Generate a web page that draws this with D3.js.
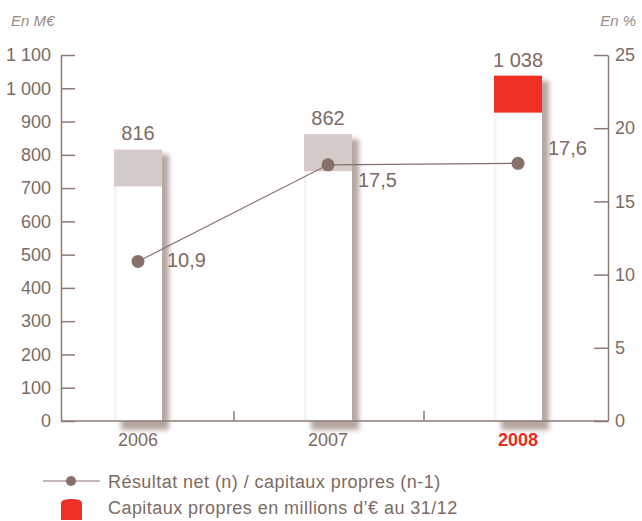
<!DOCTYPE html>
<html><head><meta charset="utf-8">
<script src="https://cdn.jsdelivr.net/npm/d3@7/dist/d3.min.js"></script>
<style>
html,body{margin:0;padding:0;background:#fff;}
svg{display:block;font-family:"Liberation Sans",Arial,sans-serif;}
</style></head>
<body>
<svg id="chart" width="642" height="521"></svg>
<script>
// ---- data ----
const years = ["2006", "2007", "2008"];
const capitaux = [816, 862, 1038];           // M€
const ratio = [10.9, 17.5, 17.6];            // %
const leftTicks = [0,100,200,300,400,500,600,700,800,900,1000,1100];
const rightTicks = [0,5,10,15,20,25];
const highlightYear = "2008";
const legendLabels = ["Résultat net (n) / capitaux propres (n-1)", "Capitaux propres en millions d’€ au 31/12"];
const unitLeft = "En M€", unitRight = "En %";
// label offsets for ratio values (style)
const ratioLabelOffset = [[29, 6], [30, 22], [30, -8]];

const fr = d3.formatLocale({decimal: ",", thousands: " ", grouping: [3], currency: ["", "€"]});
const fmtInt = fr.format(",d");
const fmtPct = fr.format(",.1f");

const svg = d3.select("#chart");
const textCol = "#7d6a63", axisCol = "#8c7b75";
const red = "#ee3124", capGray = "#d4cac8";

const x0 = 61, x1 = 608, yBase = 421, yTop = 55;
const x = d3.scaleBand().domain(years).range([43, 613]).paddingInner(0).paddingOuter(0);
const barW = 48;
const yL = d3.scaleLinear().domain([0, 1100]).range([yBase, yTop]);
const yR = d3.scaleLinear().domain([0, 25]).range([yBase, yTop]);
const capH = 37;

const defs = svg.append("defs");
const f = defs.append("filter").attr("id", "sh").attr("x", "-50%").attr("y", "-10%").attr("width", "200%").attr("height", "120%");
f.append("feGaussianBlur").attr("stdDeviation", 2.6);
const lg = defs.append("linearGradient").attr("id", "wg").attr("x1", 0).attr("x2", 1);
lg.append("stop").attr("offset", 0).attr("stop-color", "#f3efee");
lg.append("stop").attr("offset", 0.08).attr("stop-color", "#fff");
lg.append("stop").attr("offset", 1).attr("stop-color", "#fff");

const cx = d => x(d) + x.bandwidth() / 2;

// shadows
svg.append("g").selectAll("rect").data(years).join("rect")
  .attr("x", (d) => cx(d) - barW / 2 + 7)
  .attr("y", (d, i) => yL(capitaux[i]) + 5)
  .attr("width", barW)
  .attr("height", (d, i) => yBase - yL(capitaux[i]) + 4)
  .attr("fill", "#9a857e").attr("opacity", 0.72)
  .attr("filter", "url(#sh)");

// bars
const bars = svg.append("g");
bars.selectAll("rect.body").data(years).join("rect").attr("class", "body")
  .attr("x", d => cx(d) - barW / 2)
  .attr("y", (d, i) => yL(capitaux[i]))
  .attr("width", barW)
  .attr("height", (d, i) => yBase - yL(capitaux[i]))
  .attr("fill", "url(#wg)");
bars.selectAll("rect.cap").data(years).join("rect").attr("class", "cap")
  .attr("x", d => cx(d) - barW / 2)
  .attr("y", (d, i) => yL(capitaux[i]))
  .attr("width", barW)
  .attr("height", capH)
  .attr("fill", d => d === highlightYear ? red : capGray);

// value labels
svg.append("g").selectAll("text").data(years).join("text")
  .attr("x", d => cx(d)).attr("y", (d, i) => yL(capitaux[i]) - 9)
  .attr("text-anchor", "middle").attr("font-size", 20).attr("fill", textCol)
  .text((d, i) => fmtInt(capitaux[i]));

// left axis
const gL = svg.append("g").attr("transform", `translate(${x0},0)`)
  .call(d3.axisLeft(yL).tickValues(leftTicks).tickFormat(fmtInt).tickSizeInner(-14).tickSizeOuter(0).tickPadding(10));
// right axis
const gR = svg.append("g").attr("transform", `translate(${x1},0)`)
  .call(d3.axisRight(yR).tickValues(rightTicks).tickFormat(d3.format("d")).tickSizeInner(-14).tickSizeOuter(0).tickPadding(7));
[gL, gR].forEach(g => {
  g.select(".domain").attr("stroke", axisCol).attr("stroke-width", 1.5);
  g.selectAll(".tick line").attr("stroke", axisCol).attr("stroke-width", 1.5);
  g.selectAll(".tick text").attr("fill", textCol).attr("font-size", 18).attr("font-family", "Liberation Sans, Arial, sans-serif");
});

// bottom axis
const gB = svg.append("g");
gB.append("line").attr("x1", x0).attr("x2", x1).attr("y1", yBase).attr("y2", yBase)
  .attr("stroke", axisCol).attr("stroke-width", 1.5);
gB.selectAll("line.sep").data(years.slice(1)).join("line").attr("class", "sep")
  .attr("x1", d => x(d) + 1).attr("x2", d => x(d) + 1)
  .attr("y1", yBase).attr("y2", yBase - 10)
  .attr("stroke", axisCol).attr("stroke-width", 1.5);
gB.selectAll("text").data(years).join("text")
  .attr("x", d => cx(d)).attr("y", 446)
  .attr("text-anchor", "middle").attr("font-size", 18)
  .attr("fill", d => d === highlightYear ? "#ee2a1e" : textCol)
  .attr("font-weight", d => d === highlightYear ? "bold" : "normal")
  .text(d => d);

// units
svg.append("text").attr("x", 11).attr("y", 26).attr("font-size", 15).attr("font-style", "italic")
  .attr("fill", "#9b8b86").text(unitLeft);
svg.append("text").attr("x", 636).attr("y", 26).attr("font-size", 15).attr("font-style", "italic")
  .attr("text-anchor", "end").attr("fill", "#9b8b86").text(unitRight);

// line series
const lineCol = "#85706a";
svg.append("path").datum(years)
  .attr("d", d3.line().x(d => cx(d)).y((d, i) => yR(ratio[i])))
  .attr("fill", "none").attr("stroke", lineCol).attr("stroke-width", 1.2);
svg.append("g").selectAll("circle").data(years).join("circle")
  .attr("cx", d => cx(d)).attr("cy", (d, i) => yR(ratio[i])).attr("r", 6.5)
  .attr("fill", lineCol);
svg.append("g").selectAll("text").data(years).join("text")
  .attr("x", (d, i) => cx(d) + ratioLabelOffset[i][0])
  .attr("y", (d, i) => yR(ratio[i]) + ratioLabelOffset[i][1])
  .attr("font-size", 20).attr("fill", textCol)
  .text((d, i) => fmtPct(ratio[i]));

// legend
const lgG = svg.append("g");
lgG.append("line").attr("x1", 43).attr("x2", 100).attr("y1", 481).attr("y2", 481)
  .attr("stroke", lineCol).attr("stroke-width", 1.2);
lgG.append("circle").attr("cx", 71).attr("cy", 481).attr("r", 5).attr("fill", lineCol);
lgG.append("path")
  .attr("d", "M61,503 Q61,499 71.5,499 Q82,499 82,503 L82,520 L61,520 Z")
  .attr("fill", red);
lgG.selectAll("text").data(legendLabels).join("text")
  .attr("x", 108).attr("y", (d, i) => 488 + i * 26)
  .attr("font-size", 18).attr("letter-spacing", 0.45).attr("fill", textCol).text(d => d);
</script>
</body></html>
